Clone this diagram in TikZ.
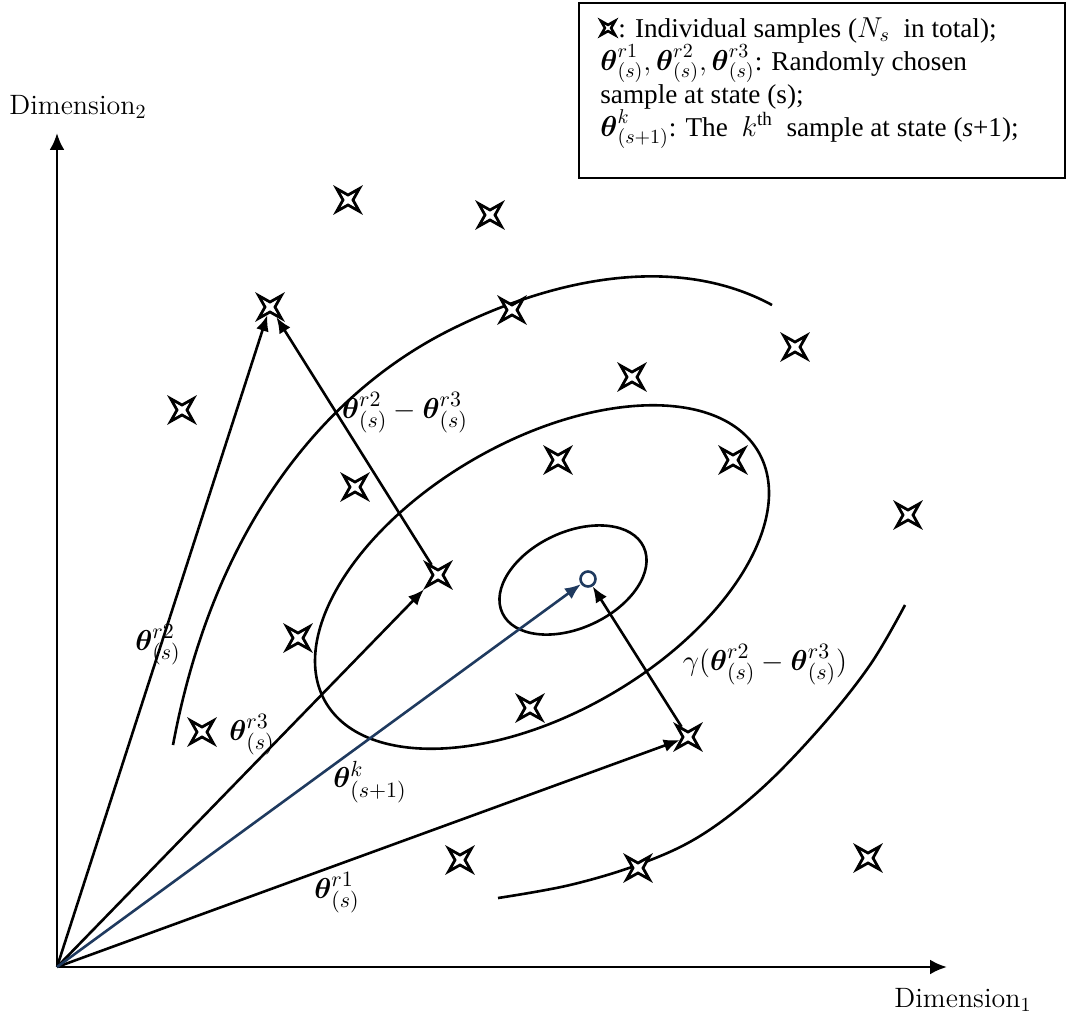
\documentclass[tikz,border=0pt]{standalone}
\usepackage{amsmath}
\usepackage{fontspec}
\newfontfamily\legendfont{Liberation Serif}
\usetikzlibrary{arrows.meta, shapes.geometric, positioning}
\definecolor{navy}{HTML}{1F3A5F}
\tikzset{
  sample/.style={star, star points=4, star point ratio=3.2, shape border rotate=45,
    draw, fill=white, line width=1.4pt, minimum size=16pt, inner sep=0pt},
  vec/.style={line width=1.3pt, -{Latex[length=8pt,width=6.5pt]}},
  contour/.style={line width=1.3pt},
  lbl/.style={font=\fontsize{15}{17}\selectfont},
}

\begin{document}
\begin{tikzpicture}[x=0.5pt,y=-0.5pt]
\useasboundingbox (0,0) rectangle (1068,1016);
% axes
\coordinate (O) at (57,967);
\coordinate (ytip) at (57,133);
\coordinate (xtip) at (947,967);
\draw[line width=1.4pt, -{Latex[length=8.5pt,width=7.5pt]}] (O) -- (ytip);
\draw[line width=1.4pt, -{Latex[length=8.5pt,width=7.5pt]}] (O) -- (xtip);
\node[lbl, font=\fontsize{14}{16}\selectfont] (dimtwo) at (78,107) {Dimension$_2$};
\node[lbl, font=\fontsize{14}{16}\selectfont] (dimone) at (963,1000) {Dimension$_1$};

% contours of the objective
\draw[contour] (173,745) .. controls (215,520) and (330,390) .. (450,330)
  .. controls (560,275) and (680,255) .. (772,305);
\draw[contour] plot[smooth, tension=0.6] coordinates {(498,898) (570,885) (640,864) (700,836) (760,790) (820,728) (870,665) (905,605)};
\draw[contour, rotate around={30:(542,577)}] (542,577) ellipse [x radius=250, y radius=136];
\draw[contour, rotate around={25:(573,580)}] (573,580) ellipse [x radius=78, y radius=48];

% samples
\foreach \n/\px/\py in {a/348/200, b/490/215, r2/270/307, c/512/310, d/795/347,
    e/632/377, f/182/410, g/558/460, h/733/460, i/355/487, j/908/515,
    r3/438/575, l/298/638, m/530/708, n/202/732, r1/688/737, p/460/860,
    q/638/868, u/868/858}
  \node[sample] (\n) at (\px,\py) {};
\node[circle, draw=navy, fill=white, line width=1.3pt, minimum size=7.5pt, inner sep=0pt] (best) at (588,579) {};

% vectors
\draw[vec] (O) -- (r2);
\draw[vec] (O) -- (r3);
\draw[vec] (O) -- (r1);
\draw[vec, navy] (O) -- (best);
\draw[vec] (r3) -- (r2);
\draw[vec] (r1) -- (best);

\node[lbl] (lrtwo) at (158,645) {$\boldsymbol{\theta}^{r2}_{(s)}$};
\node[lbl] (lrthree) at (252,735) {$\boldsymbol{\theta}^{r3}_{(s)}$};
\node[lbl] (lk) at (370,782) {$\boldsymbol{\theta}^{k}_{(s+1)}$};
\node[lbl] (lrone) at (337,893) {$\boldsymbol{\theta}^{r1}_{(s)}$};
\node[lbl] (ldiff) at (405,413) {$\boldsymbol{\theta}^{r2}_{(s)}-\boldsymbol{\theta}^{r3}_{(s)}$};
\node[lbl] (lgamma) at (765,665) {$\gamma(\boldsymbol{\theta}^{r2}_{(s)}-\boldsymbol{\theta}^{r3}_{(s)})$};

% legend
\draw[line width=1.3pt] (579,3) rectangle (1065,178);
\node[sample, minimum size=10pt, line width=1.3pt] (key) at (608,28) {};
\node[anchor=north west, inner sep=0pt, align=left,
  font=\legendfont\fontsize{13.6}{16.5}\selectfont] (legend) at (600,17)
  {\hspace{9pt}: Individual samples ($N_s$\ \ in total);\\
   $\boldsymbol{\theta}^{r1}_{(s)}, \boldsymbol{\theta}^{r2}_{(s)}, \boldsymbol{\theta}^{r3}_{(s)}$: Randomly chosen\\
   sample at state (s);\\
   $\boldsymbol{\theta}^{k}_{(s+1)}$: The \ $k^{\text{th}}$\ \ sample at state (\textit{s}+1);};
\end{tikzpicture}
\end{document}
